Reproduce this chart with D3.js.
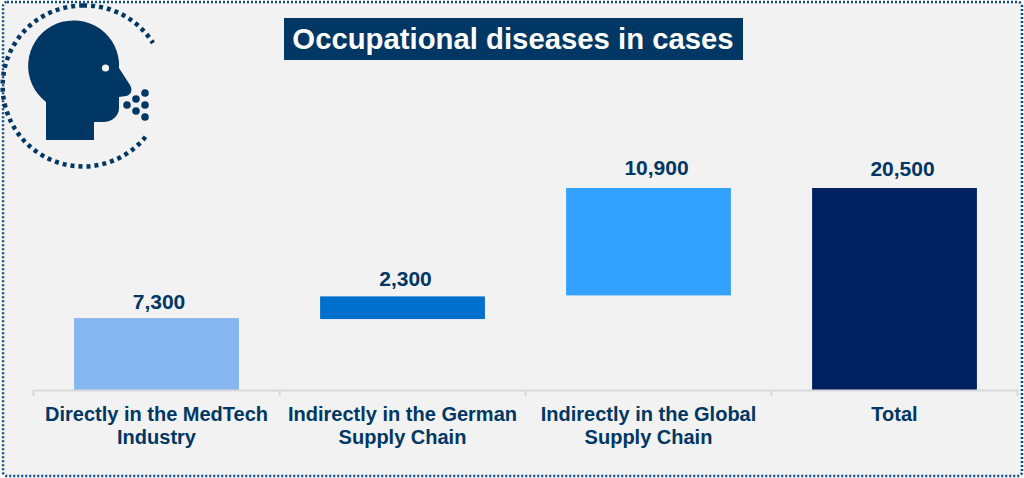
<!DOCTYPE html>
<html>
<head>
<meta charset="utf-8">
<script src="https://cdn.jsdelivr.net/npm/d3@7"></script>
<style>
  html, body { margin: 0; padding: 0; background: #fff; }
  svg { display: block; font-family: "Liberation Sans", Arial, sans-serif; }
</style>
</head>
<body>
<div id="chart"></div>
<script>
const categories = ['Directly in the MedTech Industry', 'Indirectly in the German Supply Chain', 'Indirectly in the Global Supply Chain', 'Total'];
const labelLines = [['Directly in the MedTech', 'Industry'], ['Indirectly in the German', 'Supply Chain'], ['Indirectly in the Global', 'Supply Chain'], ['Total']];
const starts = [0, 7200, 9600, 0];
const values = [7300, 2300, 10900, 20500];
const colors = ['#85b6f0', '#0070cc', '#33a1ff', '#002060'];
const title = 'Occupational diseases in cases';

const w = 1024;
const h = 478;
const navy = '#003764';

const svg = d3.select('#chart').append('svg').attr('width', w).attr('height', h);

// panel with dotted border
svg.append('rect')
  .attr('x', 3).attr('y', 2).attr('width', 1019).attr('height', 474).attr('rx', 4)
  .attr('fill', '#f2f2f2')
  .attr('stroke', '#0f4a80').attr('stroke-width', 2.5).attr('stroke-dasharray', '2 2');

const x = d3.scaleBand().domain(categories).range([33.5, 1017.5]).paddingInner(0.33).paddingOuter(0.165);
const y = d3.scaleLinear().domain([0, 20500]).range([390, 188]);

svg.selectAll('rect.bar')
  .data(values)
  .enter()
  .append('rect')
  .attr('class', 'bar')
  .attr('x', (d, i) => x(categories[i]))
  .attr('y', (d, i) => y(starts[i] + d))
  .attr('width', x.bandwidth())
  .attr('height', (d, i) => y(starts[i]) - y(starts[i] + d))
  .attr('fill', (d, i) => colors[i]);

// the value labels were moved by hand in the original, not centred on the bars
const labelGaps = [9, 10, 13, 12];
const labelShifts = [2.5, 3, 8, 8];
svg.selectAll('text.value')
  .data(values)
  .enter()
  .append('text')
  .attr('class', 'value')
  .attr('x', (d, i) => x(categories[i]) + x.bandwidth() / 2 + labelShifts[i])
  .attr('y', (d, i) => y(starts[i] + d) - labelGaps[i])
  .attr('text-anchor', 'middle')
  .attr('font-size', 21)
  .attr('font-weight', 'bold')
  .attr('fill', navy)
  .text(d => d3.format(',')(d));

// x axis, ticks sit between the bands
const xAxis = d3.axisBottom(x).tickSize(0).tickPadding(0).tickFormat('');
const axisG = svg.append('g').attr('transform', 'translate(0,390)').call(xAxis);
axisG.select('.domain').attr('stroke', '#d9d9d9').attr('stroke-width', 2);
axisG.selectAll('.tick text').remove();
axisG.selectAll('line.sep')
  .data(d3.range(categories.length + 1))
  .enter()
  .append('line')
  .attr('class', 'sep')
  .attr('x1', i => x.range()[0] + i * x.step())
  .attr('x2', i => x.range()[0] + i * x.step())
  .attr('y1', 0).attr('y2', 6)
  .attr('stroke', '#d9d9d9').attr('stroke-width', 2);

const labels = axisG.selectAll('.tick').append('text')
  .attr('fill', navy).attr('font-size', 20).attr('font-weight', 'bold').attr('text-anchor', 'middle');
labels.each(function(d, i) {
  d3.select(this).selectAll('tspan')
    .data(labelLines[i])
    .enter()
    .append('tspan')
    .attr('x', 0)
    .attr('y', (l, j) => 31 + j * 23)
    .text(l => l);
});

// title
svg.append('rect').attr('x', 284).attr('y', 18).attr('width', 459).attr('height', 42).attr('fill', navy);
svg.append('text')
  .attr('x', 513).attr('y', 49)
  .attr('text-anchor', 'middle')
  .attr('font-size', 29.3).attr('font-weight', 'bold').attr('fill', '#fff')
  .text(title);

// head icon
const icon = svg.append('g');
icon.append('path')
  .attr('d', 'M83.1,5.5 A80.5,80.5 0 1,0 147,135 M83.1,5.5 A80.5,80.5 0 0,1 153,43')
  .attr('fill', 'none').attr('stroke', navy).attr('stroke-width', 4.5).attr('stroke-dasharray', '4 4');
icon.append('path')
  .attr('d', 'M46,140 L46,102 A45.5,45.5 0 1,1 119,62 L119,68 L130,85 C133,90 131,95 126,96 L119,97 L119,108 C119,116 112,122 103,122 L94,122 L94,140 Z')
  .attr('fill', navy);
icon.append('circle').attr('cx', 105.5).attr('cy', 68).attr('r', 3.6).attr('fill', '#f2f2f2');
const dotX = [127, 136, 145, 145, 136, 145];
const dotY = [105, 99, 93, 105, 111, 117];
icon.selectAll('circle.dot')
  .data(dotX)
  .enter()
  .append('circle')
  .attr('class', 'dot')
  .attr('cx', d => d)
  .attr('cy', (d, i) => dotY[i])
  .attr('r', 3.8)
  .attr('fill', navy);
</script>
</body>
</html>
